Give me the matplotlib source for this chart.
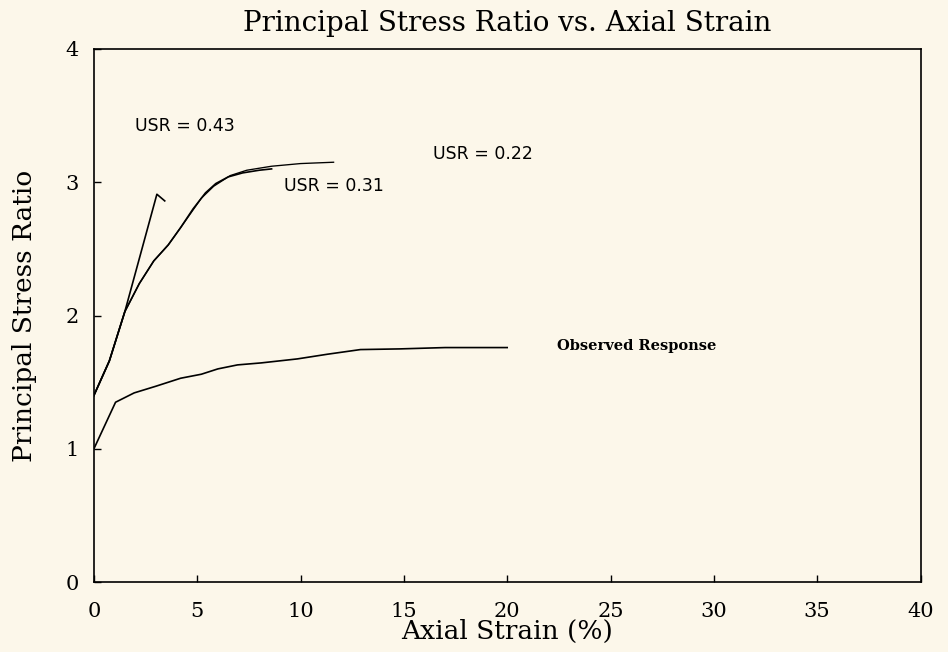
import matplotlib
matplotlib.use("Agg")
import matplotlib.pyplot as plt

# observed response
obs_x = [0.0, 1.05, 1.95, 3.0, 4.2, 5.2, 6.0, 6.95, 8.1, 9.85, 11.3, 12.9, 14.8, 17.0, 20.0]
obs_y = [1.0, 1.35, 1.42, 1.47, 1.53, 1.56, 1.60, 1.63, 1.645, 1.675, 1.71, 1.745, 1.75, 1.76, 1.76]

# USR = 0.43
u43_x = [0.0, 0.75, 1.5, 3.05, 3.43]
u43_y = [1.4, 1.66, 2.03, 2.91, 2.86]

# USR = 0.31
u31_x = [0.0, 0.75, 1.5, 2.2, 2.9, 3.6, 4.2, 4.8, 5.4, 5.9, 6.5, 7.2, 8.0, 8.6]
u31_y = [1.4, 1.66, 2.03, 2.24, 2.41, 2.53, 2.66, 2.80, 2.92, 2.99, 3.04, 3.07, 3.09, 3.10]

# USR = 0.22
u22_x = [0.0, 0.75, 1.5, 2.2, 2.9, 3.6, 4.2, 4.7, 5.2, 5.8, 6.6, 7.4, 8.6, 10.0, 11.6]
u22_y = [1.4, 1.66, 2.03, 2.24, 2.41, 2.53, 2.66, 2.77, 2.88, 2.97, 3.05, 3.09, 3.12, 3.14, 3.15]

bg = "#fcf7ea"
serif = ["DejaVu Serif"]

fig = plt.figure(figsize=(9.48, 6.52), dpi=100, facecolor=bg)
ax = fig.add_axes([0.099, 0.107, 0.872, 0.818], facecolor=bg)

lw = 1.2
ax.plot(obs_x, obs_y, color="black", lw=lw)
ax.plot(u43_x, u43_y, color="black", lw=lw)
ax.plot(u31_x, u31_y, color="black", lw=lw)
ax.plot(u22_x, u22_y, color="black", lw=lw * 0.8)

ax.text(2.0, 3.42, "USR = 0.43", fontsize=12.5, va="center")
ax.text(9.2, 2.97, "USR = 0.31", fontsize=12.5, va="center")
ax.text(16.4, 3.21, "USR = 0.22", fontsize=12.5, va="center")
ax.text(22.4, 1.77, "Observed Response", fontsize=10.5, va="center",
        family=serif, fontweight="bold")

ax.set_xlim(0, 40)
ax.set_ylim(0, 4)
ax.set_xticks([0, 5, 10, 15, 20, 25, 30, 35, 40])
ax.set_yticks([0, 1, 2, 3, 4])
ax.tick_params(direction="in", length=5, width=1, labelsize=15)
ax.tick_params(axis="x", pad=14)
ax.tick_params(axis="y", pad=11)
for lab in ax.get_xticklabels() + ax.get_yticklabels():
    lab.set_family(serif)
for s in ax.spines.values():
    s.set_linewidth(1.2)

ax.set_title("Principal Stress Ratio vs. Axial Strain", fontsize=20, family=serif, pad=13)
ax.set_xlabel("Axial Strain (%)", fontsize=19, family=serif, labelpad=-1)
ax.set_ylabel("Principal Stress Ratio", fontsize=19, family=serif, labelpad=20)

fig.savefig("out.png", dpi=100, facecolor=bg)
